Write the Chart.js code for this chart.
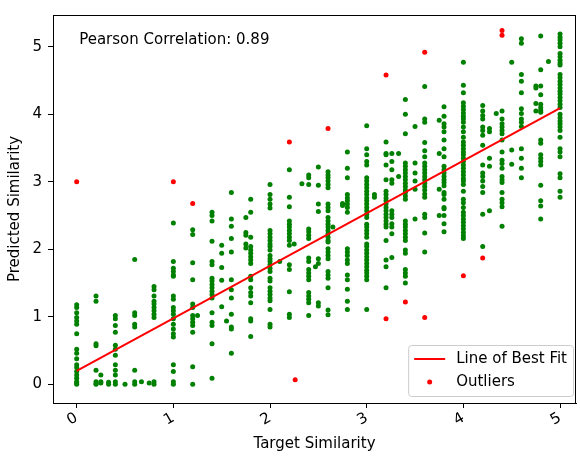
<!DOCTYPE html>
<html lang='en'>
  <head>
    <meta charset='UTF-8'>
    <title>Target vs Predicted Similarity</title>
    <script src='https://cdn.jsdelivr.net/npm/chart.js@4.4.0/dist/chart.umd.min.js'></script>
    <style>
      html, body { margin: 0; padding: 0; background: #fff; }
      canvas { display: block; }
    </style>
  </head>
  <body>
    <canvas id='grafico' width='580' height='457'></canvas>
    <script>
      // target score of each column of points
      let targetX = [0, 0.2, 0.25, 0.33, 0.4, 0.5, 0.6, 0.67, 0.75, 0.8,
        1.0, 1.2, 1.25, 1.4, 1.5, 1.55, 1.6, 1.75, 1.8, 2.0,
        2.1, 2.2, 2.25, 2.33, 2.4, 2.47, 2.5, 2.6, 2.65, 2.75,
        2.8, 3.0, 3.08, 3.2, 3.26, 3.33, 3.4, 3.5, 3.6, 3.75,
        3.8, 4.0, 4.2, 4.27, 4.34, 4.4, 4.5, 4.6, 4.75, 4.8,
        4.88, 5.0];

      // predicted scores for each column above
      let predictedY = [
        [1.18, 1.14, 1.06, 0.99, 0.94, 0.89, 0.75, 0.52, 0.46, 0.38, 0.29, 0.25, 0.19, 0.14, 0.09, 0.04, 0.02, 0],
        [1.31, 1.23, 0.60, 0.57, 0.21, 0.04, 0.01, 0],
        [0.14, 0.04, 0.02],
        [0.03, 0],
        [1.02, 0.97, 0.87, 0.77, 0.58, 0.52, 0.43, 0.29, 0.21, 0.14, 0.04, 0],
        [0],
        [1.85, 1.06, 1.02, 0.89, 0.85, 0.21, 0.04, 0],
        [0.04],
        [0.02],
        [1.45, 1.40, 1.31, 1.23, 1.19, 1.14, 1.09, 1.04, 0.99, 0.04, 0],
        [2.39, 1.82, 1.72, 1.67, 1.62, 1.60, 1.31, 1.26, 1.14, 1.09, 1.04, 0.97, 0.89, 0.82, 0.75, 0.70, 0.29, 0.19, 0.04, 0],
        [2.29, 2.22, 1.80, 1.55, 1.19, 1.14, 1.02, 0.97, 0.92, 0.87, 0.77, 0.26, 0],
        [1.02],
        [2.55, 2.50, 2.42, 2.12, 1.82, 1.77, 1.57, 1.53, 1.48, 1.43, 1.38, 1.33, 1.28, 1.06, 0.92, 0.87, 0.60, 0.09],
        [2.06, 1.94, 1.73, 1.54, 1.15],
        [0.94],
        [2.84, 2.45, 2.34, 2.16, 1.96, 1.55, 1.40, 1.28, 1.04, 0.85, 0.82, 0.46],
        [2.47, 2.25, 2.21, 2.08, 2.02],
        [2.74, 2.55, 2.18, 2.04, 1.99, 1.94, 1.89, 1.84, 1.79, 1.60, 1.55, 1.43, 1.36, 1.31, 1.21, 0.97, 0.94, 0.71],
        [2.96, 2.81, 2.74, 2.67, 2.61, 2.28, 2.23, 2.18, 2.13, 2.08, 2.04, 1.99, 1.91, 1.86, 1.82, 1.77, 1.72, 1.67, 1.57, 1.53, 1.43, 1.38, 1.33, 1.28, 1.24, 1.11, 0.89, 0.85],
        [1.82],
        [3.18, 2.77, 2.63, 2.42, 2.37, 2.33, 2.28, 2.23, 2.18, 2.13, 2.06, 1.77, 1.70, 1.37, 1.04, 0.99],
        [2.08],
        [2.97],
        [3.10, 3.06, 2.96, 2.30, 2.26, 2.21, 2.16, 1.87, 1.82, 1.70, 1.65, 1.60, 1.55, 1.36, 1.31, 1.26, 1.21, 1.02],
        [1.74],
        [3.22, 2.95, 2.67, 2.56, 1.86, 1.79, 1.21, 1.16],
        [3.15, 3.10, 3.06, 3.01, 2.96, 2.91, 2.67, 2.62, 2.57, 2.47, 2.42, 2.37, 2.33, 2.28, 2.23, 2.18, 2.13, 2.11, 2.01, 1.96, 1.91, 1.86, 1.67, 1.62, 1.57, 1.43, 1.10, 1.03],
        [2.33],
        [2.68, 2.65],
        [3.44, 3.20, 3.06, 2.81, 2.76, 2.72, 2.67, 2.62, 2.55, 2.01, 1.96, 1.91, 1.84, 1.79, 1.62, 1.55, 1.41, 1.23, 1.11],
        [3.83, 3.49, 3.40, 3.30, 3.25, 3.06, 3.01, 2.96, 2.91, 2.86, 2.81, 2.76, 2.72, 2.67, 2.62, 2.57, 2.52, 2.47, 2.37, 2.33, 2.28, 2.23, 2.18, 2.08, 2.04, 1.99, 1.94, 1.89, 1.84, 1.79, 1.74, 1.69, 1.65, 1.60, 1.55, 1.11],
        [2.81, 2.77],
        [3.59, 3.42, 3.40, 3.25, 3.03, 2.86, 2.81, 2.76, 2.72, 2.67, 2.62, 2.57, 2.52, 2.47, 2.42, 2.37, 2.33, 2.13, 1.84, 1.74, 1.43],
        [3.42, 3.30, 3.18, 3.03, 2.98, 2.57, 2.52, 2.47, 2.38, 2.33, 2.23, 1.88],
        [3.42, 3.08],
        [4.22, 4.00, 3.71, 3.28, 3.23, 3.18, 3.13, 3.08, 3.03, 2.98, 2.93, 2.88, 2.84, 2.79, 2.74, 2.42, 2.37, 2.33, 2.28, 2.23, 2.18, 2.13, 1.99, 1.94, 1.70, 1.65, 1.60, 1.50],
        [3.82, 3.28, 3.13, 3.01, 2.89, 2.45],
        [4.41, 3.93, 3.88, 3.58, 3.46, 3.37, 3.28, 3.23, 3.18, 3.13, 3.08, 3.03, 2.98, 2.93, 2.88, 2.82, 2.77, 2.52, 2.47, 2.24, 1.96],
        [3.91, 3.42, 2.89, 2.50],
        [4.11, 3.97, 3.86, 3.81, 3.74, 3.62, 3.49, 3.37, 3.23, 3.18, 3.13, 3.08, 3.03, 2.99, 2.94, 2.84, 2.81, 2.74, 2.62, 2.60, 2.50, 2.38, 2.26],
        [4.77, 4.43, 4.32, 4.17, 4.12, 4.07, 4.02, 3.97, 3.93, 3.88, 3.81, 3.74, 3.66, 3.59, 3.54, 3.49, 3.44, 3.40, 3.35, 3.30, 3.25, 3.20, 3.15, 3.10, 3.05, 3.01, 2.96, 2.86, 2.74, 2.69, 2.62, 2.55, 2.50, 2.45, 2.40, 2.35, 2.30, 2.25, 2.20, 2.16],
        [4.13, 4.05, 3.98, 3.93, 3.81, 3.76, 3.69, 3.54, 3.25, 3.13, 3.08, 3.01, 2.93, 2.84, 2.52, 2.04],
        [3.79, 3.74, 3.35, 3.23, 2.57],
        [4.01],
        [4.05, 3.93, 3.86, 3.81, 3.76, 3.71, 3.62, 3.44, 3.32, 3.27, 3.20, 3.08, 3.03, 2.99, 2.84, 2.74, 2.69, 2.63, 2.34],
        [4.77, 3.47, 3.26],
        [5.12, 5.05, 4.59, 4.49, 4.32, 4.08, 4.01, 3.93, 3.88, 3.82, 3.49, 3.35, 3.20, 3.06],
        [4.42, 4.39, 4.16, 4.05],
        [5.16, 4.66, 4.42, 4.29, 4.15, 4.10, 4.06, 4.03, 3.62, 3.57, 3.40, 3.35, 3.30, 3.25, 2.95, 2.72, 2.64, 2.45],
        [4.78],
        [5.19, 5.14, 5.10, 5.05, 5.00, 4.90, 4.85, 4.80, 4.76, 4.73, 4.59, 4.54, 4.49, 4.44, 4.39, 4.34, 4.30, 4.25, 4.20, 4.15, 4.10, 4.00, 3.95, 3.90, 3.86, 3.81, 3.76, 3.66, 3.49, 3.44, 3.37, 3.12, 3.06, 2.86, 2.77]
      ];

      let outlierX = [0, 1.0, 1.2, 2.2, 2.26, 2.6, 3.2, 3.2, 3.4, 3.6, 3.6, 4.0, 4.2, 4.4, 4.4];
      let outlierY = [3.0, 3.0, 2.68, 3.59, 0.07, 3.79, 4.58, 0.97, 1.22, 4.92, 0.99, 1.61, 1.87, 5.24, 5.17];

      let fitX = [0, 5];
      let fitY = [0.2, 4.09];

      let pearson = 0.89;

      let font = { family: 'DejaVu Sans', size: 15 };

      let points = targetX.flatMap((x, i) => predictedY[i].map(y => ({ x: x, y: y })));
      let outliers = outlierX.map((x, i) => ({ x: x, y: outlierY[i] }));
      let fitLine = fitX.map((x, i) => ({ x: x, y: fitY[i] }));

      // caixa dos eixos + texto da correlação + legenda no canto
      let extras = {
        id: 'extras',
        afterDraw(chart) {
          let ctx = chart.ctx;
          let a = chart.chartArea;
          ctx.save();
          ctx.strokeStyle = '#000';
          ctx.lineWidth = 1;
          ctx.strokeRect(Math.round(a.left) + 0.5, Math.round(a.top) + 0.5, Math.round(a.right - a.left) - 1, Math.round(a.bottom - a.top));

          ctx.font = `${font.size}px ${font.family}`;
          ctx.fillStyle = '#000';
          ctx.textBaseline = 'middle';
          ctx.textAlign = 'left';
          ctx.fillText(`Pearson Correlation: ${pearson.toFixed(2)}`, a.left + 0.05 * (a.right - a.left), a.top + 25);

          let items = [chart.data.datasets[1], chart.data.datasets[2]];
          let pad = 6, handle = 31, gap = 11, row = 23;
          let textW = Math.max(...items.map(d => ctx.measureText(d.label).width));
          let w = pad + handle + gap + textW + pad;
          let h = 51;
          let right = a.right - 3, bottom = a.bottom - 7;
          let left = right - w, top = bottom - h;
          ctx.beginPath();
          ctx.roundRect(left + 0.5, top + 0.5, w, h, 3);
          ctx.fillStyle = 'rgba(255,255,255,0.8)';
          ctx.fill();
          ctx.strokeStyle = '#cccccc';
          ctx.stroke();

          let y1 = top + 14, y2 = y1 + row;
          ctx.strokeStyle = items[0].borderColor;
          ctx.lineWidth = 2;
          ctx.beginPath();
          ctx.moveTo(left + pad, y1);
          ctx.lineTo(left + pad + handle, y1);
          ctx.stroke();

          ctx.fillStyle = items[1].backgroundColor;
          ctx.beginPath();
          ctx.arc(left + pad + handle / 2, y2, 2.5, 0, Math.PI * 2);
          ctx.fill();

          ctx.fillStyle = '#000';
          ctx.textBaseline = 'middle';
          ctx.fillText(items[0].label, left + pad + handle + gap, y1);
          ctx.fillText(items[1].label, left + pad + handle + gap, y2);
          ctx.restore();
        }
      };

      let axisStyle = {
        grid: { drawOnChartArea: false, drawTicks: true, tickLength: 5, color: '#000', lineWidth: 1 },
        border: { display: true, color: '#000', width: 1 }
      };

      new Chart(document.getElementById('grafico'), {
        type: 'scatter',
        data: {
          datasets: [
            {
              label: 'Data',
              data: points,
              backgroundColor: '#008000',
              borderWidth: 0,
              pointRadius: 2.5,
              order: 3
            },
            {
              label: 'Line of Best Fit',
              data: fitLine,
              showLine: true,
              borderColor: '#ff0000',
              borderWidth: 2,
              pointRadius: 0,
              order: 2
            },
            {
              label: 'Outliers',
              data: outliers,
              backgroundColor: '#ff0000',
              borderWidth: 0,
              pointRadius: 2.5,
              order: 1
            }
          ]
        },
        options: {
          responsive: false,
          animation: false,
          devicePixelRatio: 1,
          layout: { padding: { top: 7, right: 2, left: 0, bottom: 0 } },
          plugins: {
            legend: { display: false },
            tooltip: { enabled: false }
          },
          scales: {
            x: {
              type: 'linear',
              min: -0.245,
              max: 5.165,
              ...axisStyle,
              ticks: { stepSize: 1, includeBounds: false, minRotation: 30, maxRotation: 30, color: '#000', font: font, padding: 1 },
              title: { display: true, text: 'Target Similarity', color: '#000', font: font, padding: { top: 0, bottom: 4 } },
              afterFit(scale) { scale.height = 54; }
            },
            y: {
              type: 'linear',
              min: -0.276,
              max: 5.47,
              ...axisStyle,
              ticks: { stepSize: 1, includeBounds: false, color: '#000', font: font, padding: 6 },
              title: { display: true, text: 'Predicted Similarity', color: '#000', font: font, padding: { top: 6, bottom: 0 } },
              afterFit(scale) { scale.width = 53; }
            }
          }
        },
        plugins: [extras]
      });
    </script>
  </body>
</html>
